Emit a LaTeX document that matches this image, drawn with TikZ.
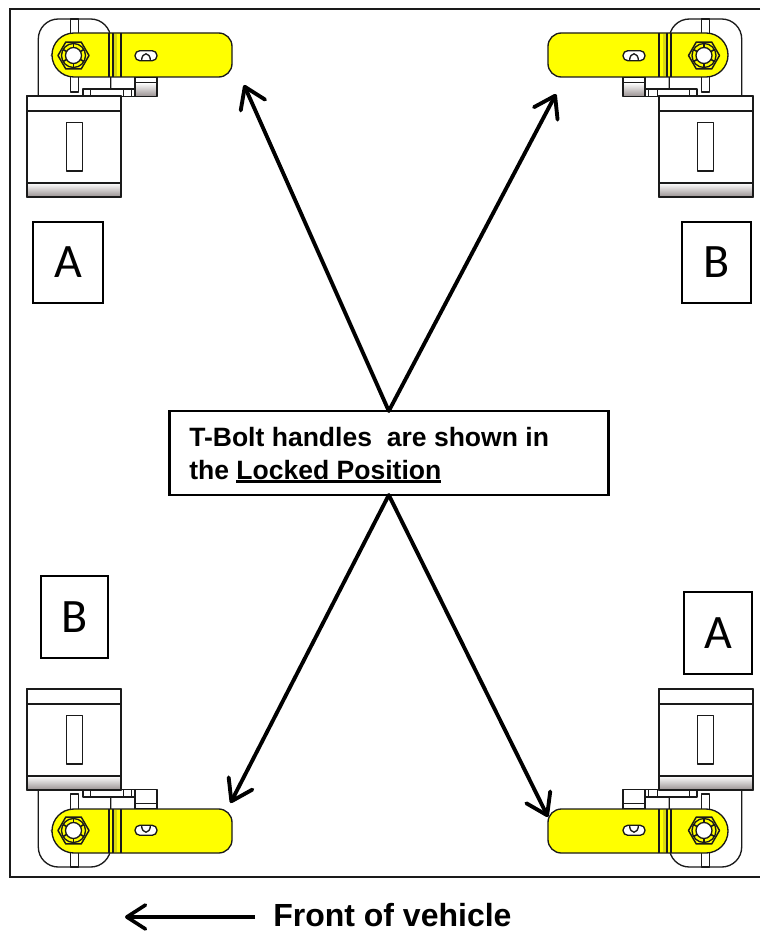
\documentclass[tikz,border=0pt]{standalone}
\usepackage{fontspec}
\setmainfont{Liberation Sans}
\newfontfamily\calib{Carlito}
\usetikzlibrary{arrows.meta}
\definecolor{lineblk}{HTML}{1A1A1A}
\definecolor{handleyel}{HTML}{FFFF00}
\definecolor{bandyel}{HTML}{D8D810}
\definecolor{greyshade}{HTML}{989090}
\definecolor{greymid}{HTML}{F0EEEE}
\definecolor{hexgrey}{HTML}{777777}
\tikzset{
  part/.style={draw=lineblk,line width=1pt,line join=round},
  thinpart/.style={draw=lineblk,line width=0.7pt},
  letterbox/.style={draw=black,line width=1pt,fill=white,inner sep=0pt,outer sep=0pt,font=\calib\fontsize{36}{40}\selectfont},
  notebox/.style={draw=black,line width=1.9pt,fill=white,inner sep=0pt,outer sep=0pt,minimum width=329.25pt,minimum height=63pt},
  notetext/.style={anchor=base west,inner sep=0pt,font=\bfseries\fontsize{19.9}{22}\selectfont},
  bigarrow/.style={line width=2.9pt,line cap=round,black,-{Straight Barb[length=15pt,width=20pt,line width=2.9pt,round]}},
  frontarrow/.style={line width=2.7pt,black,-{Straight Barb[length=14pt,width=18pt,line width=2.7pt,round]}},
}
\newcommand{\udl}[1]{\leavevmode\setbox0\hbox{#1}\rlap{\rule[-3pt]{\wd0}{1.9pt}}#1}
% block of the hinge: never flipped, gradient always at its lower edge
\newcommand{\hingeblock}{%
  \path[part,fill=white] (27,96) rectangle (121,197);
  \shade[top color=white,middle color=greymid,bottom color=greyshade] (27,183) rectangle (121,197);
  \draw[part] (27,96) rectangle (121,197);
  \draw[part] (27,111) -- (121,111);
  \draw[part] (27,183) -- (121,183);
  \draw[part] (66.7,122.7) rectangle (82.3,171);
}
% #1 nut centre x, #2 = 1 for a shaded knob
\newcommand{\hingeparts}[2]{%
  \draw[part] (38.3,96) [rounded corners=15pt] -- (38.3,19) -- (110.7,19) -- (110.7,96);
  \draw[part,fill=white] (70.7,19) rectangle (78.7,92);
  \draw[part,fill=white] (83,89) rectangle (135,96.5);
  \draw[thinpart] (90.7,89) -- (90.7,96.5) (123,89) -- (123,96.5) (131.7,89) -- (131.7,96.5);
  \draw[part] (110.7,77) -- (110.7,89);
  \ifnum#2=1
    \shade[top color=white,middle color=greymid,bottom color=greyshade] (135,82.7) rectangle (157,96.5);
  \fi
  \draw[part] (135,77) rectangle (157,96.5);
  \draw[part] (135,82.7) -- (157,82.7);
  \draw[hexgrey,line width=0.6pt,densely dashed] plot[samples at={0,60,...,300}] ({#1+22.5*cos(\x)},{55.5+22.5*sin(\x)}) -- cycle;
  \path[part,fill=handleyel] (120,33) [rounded corners=10pt] -- (232,33) -- (232,77) -- (120,77) [rounded corners=16.5pt] -- (52,77) -- (52,33) -- cycle;
  \fill[bandyel] (113,33.6) rectangle (117,76.4);
  \draw[part] (109,33) -- (109,77) (113,33) -- (113,77) (121,33) -- (121,77);
  \draw[part,line width=1.1pt] plot[samples at={0,60,...,300}] ({#1+15.5*cos(\x)},{55.5+15.5*sin(\x)}) -- cycle;
  \draw[part] (#1,55.5) circle[radius=12];
  \foreach \a in {30,90,...,330}
    \draw[part,line width=1.2pt] ({#1+8*cos(\a)},{55.5+8*sin(\a)}) -- ({#1+12*cos(\a)},{55.5+12*sin(\a)});
  \draw[part,fill=white] (#1,55.5) circle[radius=8];
  \draw[part,fill=white,rounded corners=3.6pt] (135,50.7) rectangle (157,60.7);
  \draw[part] (141.5,60.7) .. controls (142,51.5) and (150,51.5) .. (150.5,60.7);
}
\begin{document}
\begin{tikzpicture}[x=0.75pt,y=-0.75pt]
\useasboundingbox (0,0) rectangle (760,931);
\fill[white] (0,0) rectangle (760,931);
\draw[lineblk,line width=1.5pt] (760,9.5) -- (10,9.5) -- (10,877) -- (760,877);

% hinges
\begin{scope}
  \hingeparts{73.5}{1}
  \hingeblock
\end{scope}
\begin{scope}[shift={(780,0)},xscale=-1]
  \hingeparts{76}{1}
  \hingeblock
\end{scope}
\begin{scope}[shift={(0,886)},yscale=-1]
  \hingeparts{73.5}{0}
\end{scope}
\begin{scope}[shift={(0,593)}]
  \hingeblock
\end{scope}
\begin{scope}[shift={(780,886)},xscale=-1,yscale=-1]
  \hingeparts{76}{0}
\end{scope}
\begin{scope}[shift={(780,593)},xscale=-1]
  \hingeblock
\end{scope}

% letter boxes
\node[letterbox,minimum width=52.5pt,minimum height=60.75pt] (a1) at (68,262.5) {A};
\node[letterbox,minimum width=51.75pt,minimum height=60.75pt] (b1) at (716.5,262.5) {B};
\node[letterbox,minimum width=50.25pt,minimum height=61.5pt] (b2) at (74.5,617) {B};
\node[letterbox,minimum width=51pt,minimum height=61.5pt] (a2) at (718,633) {A};

% note
\node[notebox] (note) at (388.8,453) {};
\node[notetext] (l1) at (189,446.7) {T-Bolt handles\ \ are shown in};
\node[notetext] (l2) at (189,479) {the \udl{Locked Position}};

% arrow ends
\coordinate (tl) at (244,85);
\coordinate (tr) at (556,94);
\coordinate (bl) at (230.5,803);
\coordinate (br) at (548,817);
\draw[bigarrow] (note.north) -- (tl);
\draw[bigarrow] (note.north) -- (tr);
\draw[bigarrow] (note.south) -- (bl);
\draw[bigarrow] (note.south) -- (br);

% front of vehicle
\node[anchor=base west,inner sep=0pt,font=\bfseries\fontsize{24}{28}\selectfont] (front) at (273,926.7) {Front of vehicle};
\coordinate (fs) at (255,917);
\coordinate (fe) at (125,917);
\draw[frontarrow] (fs) -- (fe);
\end{tikzpicture}
\end{document}
